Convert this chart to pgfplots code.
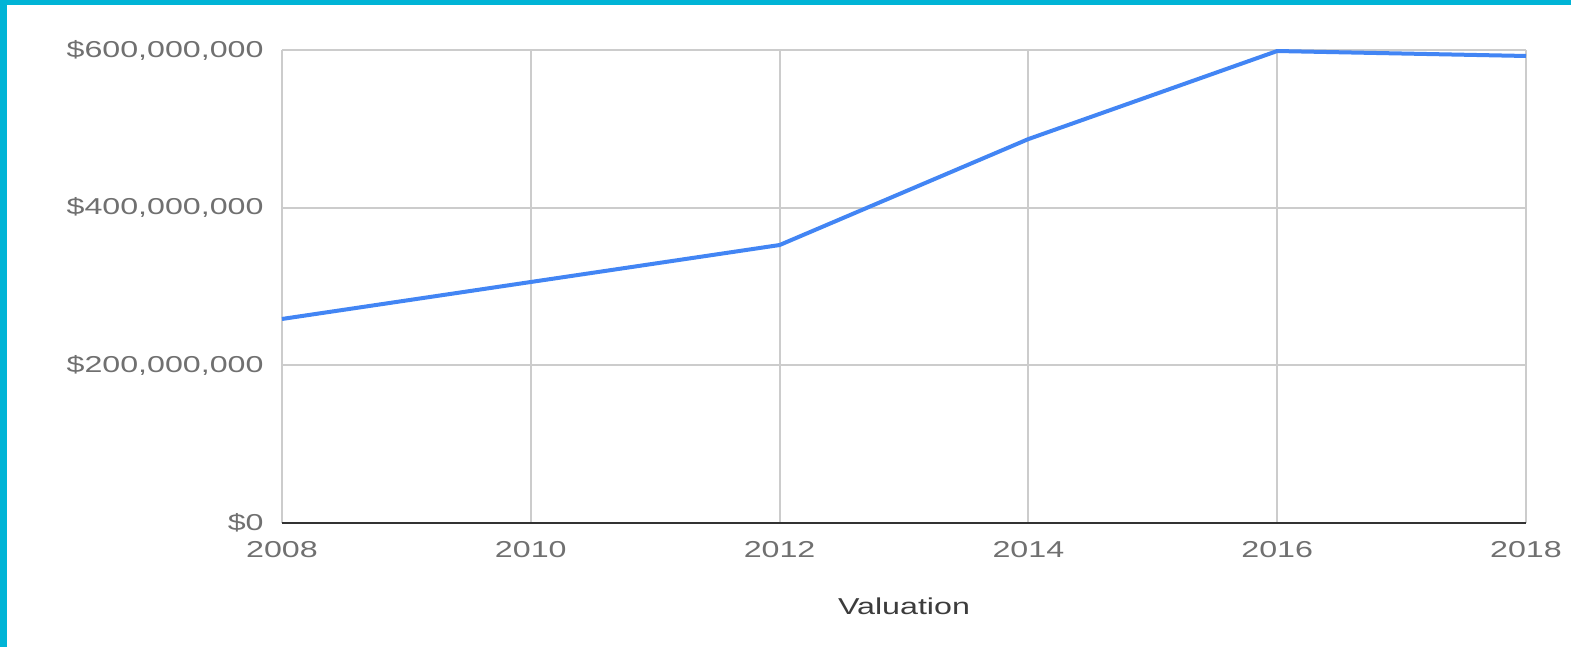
\documentclass[border=0pt]{standalone}
\usepackage{pgfplots}
\pgfplotsset{compat=1.18}
\usepackage{fontspec}
\setmainfont{Liberation Sans}[FakeStretch=1.4]
\definecolor{framec}{RGB}{0,180,214}
\definecolor{gridc}{RGB}{204,204,204}
\definecolor{tickc}{RGB}{112,112,112}
\definecolor{labelc}{RGB}{60,60,60}
\definecolor{axisc}{RGB}{51,51,51}
\definecolor{linec}{RGB}{66,133,244}
\pgfplotstableread{
year value
2008 258800000
2010 305700000
2012 352600000
2014 487000000
2016 598700000
2018 592400000
}\valdata
\begin{document}
\begin{tikzpicture}
\path[use as bounding box, fill=white] (-141pt,-62pt) rectangle (644.5pt,261.5pt);
\fill[framec] (-141pt,-62pt) rectangle (-137.5pt,261.5pt);
\fill[framec] (-141pt,259pt) rectangle (644.5pt,261.5pt);
\begin{axis}[
  at={(0pt,0pt)}, anchor=south west,
  scale only axis, width=622pt, height=236.5pt,
  xmin=2008, xmax=2018, ymin=0, ymax=600000000,
  axis line style={draw=none},
  tick style={draw=none},
  grid=major,
  grid style={line width=1pt, color=gridc},
  xtick={2008,2010,2012,2014,2016,2018},
  xticklabels={2008,2010,2012,2014,2016,2018},
  ytick={0,200000000,400000000,600000000},
  yticklabels={{\$0},{\$200,000,000},{\$400,000,000},{\$600,000,000}},
  scaled y ticks=false,
  ticklabel style={font=\fontsize{11.5}{13}\selectfont, text=tickc, inner sep=0pt},
  yticklabel style={anchor=east, xshift=-9pt},
  xticklabel style={anchor=north, yshift=-9pt},
  xlabel={Valuation},
  xlabel style={at={(axis description cs:0.5,0)}, anchor=north, yshift=-37pt, inner sep=0pt, font=\fontsize{11.5}{13}\selectfont, text=labelc},
  clip=false,
]
\draw[axisc, line width=1pt] (axis cs:2008,0) -- (axis cs:2018,0);
\addplot[linec, line width=2pt, no markers] table[x=year, y=value] {\valdata};
\end{axis}
\end{tikzpicture}
\end{document}
